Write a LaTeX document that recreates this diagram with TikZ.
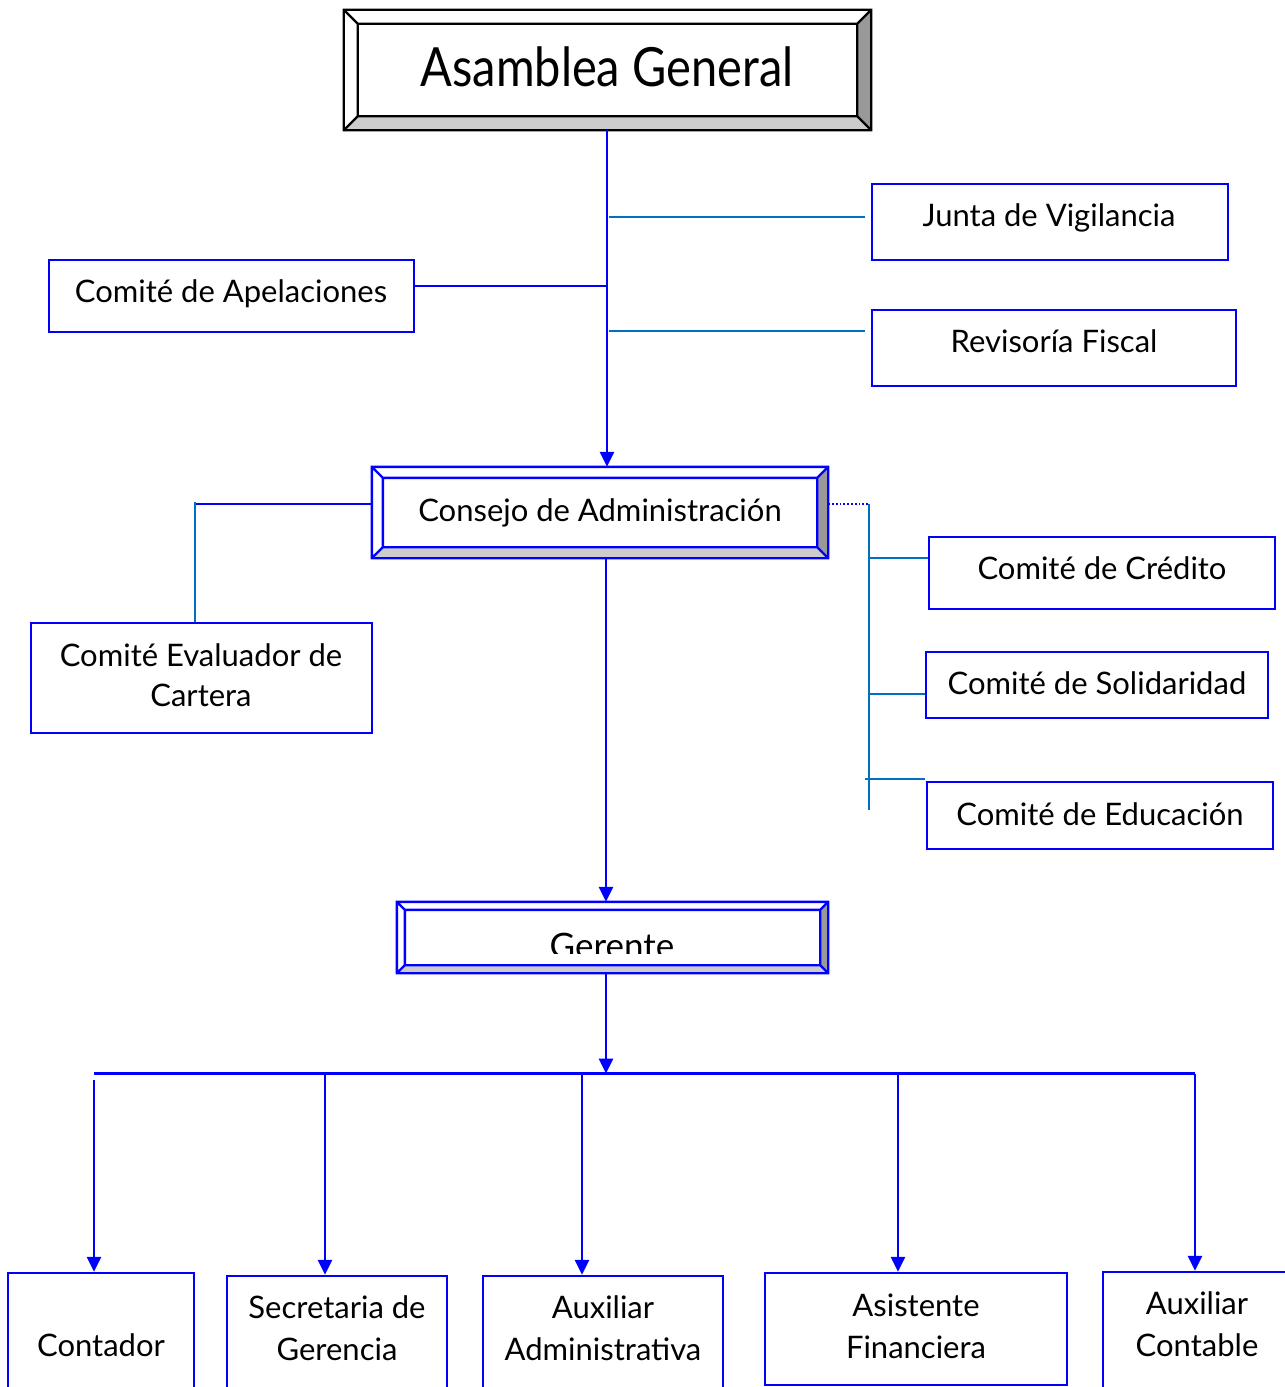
\documentclass[tikz,border=0pt]{standalone}
\usepackage{fontspec}
\setmainfont{Lato}
\usetikzlibrary{arrows.meta,calc}
\definecolor{mblue}{RGB}{0,0,255}
\definecolor{lblue}{RGB}{0,112,192}
\definecolor{bevdark}{RGB}{153,153,153}
\definecolor{bevlight}{RGB}{204,204,204}
\newcommand\mybevel[4]{% node, depth, colour, line width
  \fill[bevdark] (#1.north east) -- (#1.south east) -- ([xshift=-#2,yshift=#2]#1.south east) -- ([xshift=-#2,yshift=-#2]#1.north east) -- cycle;
  \fill[bevlight] (#1.south west) -- (#1.south east) -- ([xshift=-#2,yshift=#2]#1.south east) -- ([xshift=#2,yshift=#2]#1.south west) -- cycle;
  \draw[#3,line width=#4,line join=miter]
    (#1.north west) -- ([xshift=#2,yshift=-#2]#1.north west)
    (#1.north east) -- ([xshift=-#2,yshift=-#2]#1.north east)
    (#1.south east) -- ([xshift=-#2,yshift=#2]#1.south east)
    (#1.south west) -- ([xshift=#2,yshift=#2]#1.south west)
    ([xshift=#2,yshift=-#2]#1.north west) rectangle ([xshift=-#2,yshift=#2]#1.south east)
    (#1.north west) rectangle (#1.south east);
}
\begin{document}
\begin{tikzpicture}[x=1pt,y=-1pt,
  box/.style={draw=mblue, line width=2.4pt, fill=white, inner sep=0pt},
  lab/.style={inner sep=0pt, align=center, font=\fontsize{31}{42}\selectfont},
  blab/.style={lab, anchor=base},
  bevbox/.style={fill=white, inner sep=0pt},
  bl/.style={draw=mblue, line width=2.8pt},
  ll/.style={draw=lblue, line width=2.4pt},
  arr/.style={-{Triangle[width=14pt,length=15pt]}},
]
\useasboundingbox (0,0) rectangle (1285,1387);

% ---- bevelled boxes
\node[bevbox, minimum width=527pt, minimum height=120pt] (asam) at (607.5,70) {};
\mybevel{asam}{14pt}{black}{2.2pt}
\node[inner sep=0pt, anchor=base, font=\fontsize{47}{50}\selectfont] (asamt) at (607,86) {\scalebox{1}[1.15]{Asamblea General}};

\node[bevbox, minimum width=456pt, minimum height=91pt] (cons) at (600,512.5) {};
\mybevel{cons}{11pt}{mblue}{2.4pt}
\node[blab] (const) at (600,521) {Consejo de Administración};

\node[bevbox, minimum width=431pt, minimum height=71pt] (ger) at (612.5,937.5) {};
\mybevel{ger}{8pt}{mblue}{2.4pt}
\begin{scope}
  \clip (405,910) rectangle (820,953);
  \node[inner sep=0pt, anchor=base, font=\fontsize{35}{40}\selectfont] (gert) at (612,958) {Gerente};
\end{scope}

% ---- plain boxes
\node[box, minimum width=356pt, minimum height=76pt] (junta) at (1050,222) {};
\node[blab] (juntat) at (1049,226) {Junta de Vigilancia};
\node[box, minimum width=364pt, minimum height=76pt] (revi) at (1054,348) {};
\node[blab] (revit) at (1054,352) {Revisoría Fiscal};
\node[box, minimum width=365pt, minimum height=72pt] (apel) at (231.5,296) {};
\node[blab] (apelt) at (231,302) {Comité de Apelaciones};
\node[box, minimum width=341pt, minimum height=110pt] (eval) at (201.5,678) {};
\node[blab] (evalt1) at (201,666) {Comité Evaluador de};
\node[blab] (evalt2) at (201,706) {Cartera};
\node[box, minimum width=346pt, minimum height=72pt] (cred) at (1102,573) {};
\node[blab] (credt) at (1102,579) {Comité de Crédito};
\node[box, minimum width=342pt, minimum height=66pt] (soli) at (1097,685) {};
\node[blab] (solit) at (1097,694) {Comité de Solidaridad};
\node[box, minimum width=346pt, minimum height=67pt] (educ) at (1100,815.5) {};
\node[blab] (educt) at (1100,825) {Comité de Educación};

% ---- bottom boxes (cut by the page edge)
\node[box, minimum width=186pt, minimum height=127pt] (cont) at (101,1336.5) {};
\node[lab] (contt) at (101,1345) {Contador};
\node[box, minimum width=220pt, minimum height=124pt] (secr) at (337,1338) {};
\node[lab] (secrt) at (337,1328) {Secretaria de\\Gerencia};
\node[box, minimum width=240pt, minimum height=124pt] (auxa) at (603,1338) {};
\node[lab] (auxat) at (603,1328) {Auxiliar\\Administrativa};
\node[box, minimum width=302pt, minimum height=112pt] (asis) at (916,1329) {};
\node[lab] (asist) at (916,1326) {Asistente\\Financiera};
\node[box, minimum width=187pt, minimum height=128pt] (auxc) at (1196.5,1336) {};
\node[lab] (auxct) at (1197,1324) {Auxiliar\\Contable};

% ---- junction coordinates
\coordinate (tJ) at (609,217);
\coordinate (tR) at (609,331);
\coordinate (tA) at (607,286);
\coordinate (jJ) at (865,217);
\coordinate (jR) at (865,331);
\coordinate (eL) at (195,504);
\coordinate (eT) at (195,502);
\coordinate (rT) at (869,504);
\coordinate (rB) at (869,810);
\coordinate (sC) at (869,558);
\coordinate (sS) at (869,694);
\coordinate (sE1) at (865,779);
\coordinate (sE2) at (925,779);
\coordinate (busL) at (94,1073.5);
\coordinate (busR) at (1195,1073.5);
\coordinate (busM) at (606,1073.5);

% ---- connectors top
\draw[bl,arr] (asam.south -| 607,0) -- (cons.north -| 607,0);
\draw[bl] (apel.east |- tA) -- (tA);
\draw[ll] (tJ) -- (jJ);
\draw[ll] (tR) -- (jR);

% ---- connectors around consejo
\draw[bl] (cons.west |- eL) -- (eL);
\draw[ll] (eT) -- (eval.north -| eT);
\draw[mblue, line width=1.8pt, dotted] (cons.east |- rT) -- (rT);
\draw[ll] (rT) -- (rB);
\draw[ll] (sC) -- (cred.west |- sC);
\draw[ll] (sS) -- (soli.west |- sS);
\draw[ll] (sE1) -- (sE2);

% ---- down to gerente and staff
\draw[bl,arr] (cons.south -| 606,0) -- (ger.north -| 606,0);
\draw[bl,arr] (ger.south -| busM) -- (busM);
\draw[bl] (busL) -- (busR);
\draw[bl,arr] (94,1080) -- (cont.north -| 94,0);
\draw[bl,arr] (325,1073.5) -- (secr.north -| 325,0);
\draw[bl,arr] (582,1073.5) -- (auxa.north -| 582,0);
\draw[bl,arr] (898,1073.5) -- (asis.north -| 898,0);
\draw[bl,arr] (busR) -- (auxc.north -| busR);
\end{tikzpicture}
\end{document}
